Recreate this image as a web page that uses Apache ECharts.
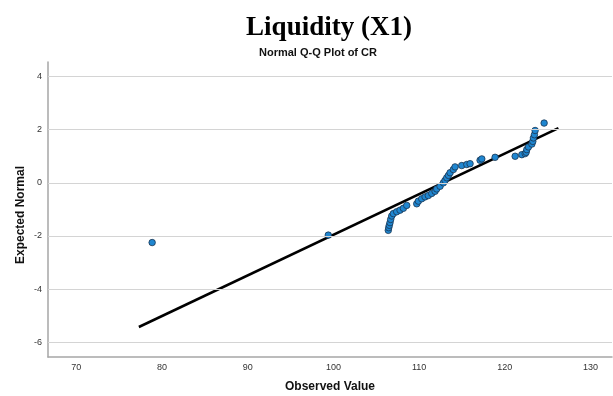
<!DOCTYPE html>
<html><head><meta charset="utf-8">
<script src="https://cdn.jsdelivr.net/npm/echarts@6/dist/echarts.min.js"></script>
<style>html,body{margin:0;padding:0;background:#fff}#c{width:613px;height:396px}</style>
</head><body><div id="c"></div>
<script>
const observed = [78.85, 99.40, 106.40, 106.45, 106.52, 106.60, 106.68, 106.80, 106.99, 107.38,
  107.77, 108.16, 108.55, 109.72, 109.91, 110.30, 110.69, 111.07, 111.47, 111.86,
  112.05, 112.44, 112.83, 113.02, 113.22, 113.42, 113.61, 113.99, 114.19, 114.97,
  115.56, 115.94, 117.11, 117.31, 118.86, 121.20, 121.98, 122.37, 122.48, 122.56,
  122.75, 123.15, 123.26, 123.33, 123.45, 123.53, 124.58];
const expected = [-2.25, -1.97, -1.79, -1.69, -1.60, -1.50, -1.38, -1.25, -1.16, -1.09,
  -1.03, -0.96, -0.85, -0.79, -0.69, -0.60, -0.53, -0.48, -0.40, -0.32,
  -0.23, -0.13, 0.00, 0.09, 0.19, 0.28, 0.38, 0.50, 0.60, 0.65,
  0.69, 0.72, 0.85, 0.90, 0.96, 1.00, 1.06, 1.10, 1.15, 1.25,
  1.35, 1.46, 1.56, 1.69, 1.81, 1.97, 2.25];
// Reference line endpoints
const lineX = [77.30, 126.25];
const lineY = [-5.43, 2.06];
// Tick labels
const xTicks = [70, 80, 90, 100, 110, 120, 130];
const yTicks = [-6, -4, -2, 0, 2, 4];

const points = observed.map((v, i) => [v, expected[i]]);
const linePts = lineX.map((v, i) => [v, lineY[i]]);

const chart = echarts.init(document.getElementById('c'), null, {renderer: 'canvas'});
const labelFont = {fontFamily: 'Liberation Sans, Arial, sans-serif', fontSize: 9, color: '#333'};
chart.setOption({
  animation: false,
  backgroundColor: '#fff',
  title: [
    {text: 'Liquidity (X1)', left: 324, top: 10, textAlign: 'center',
     textStyle: {fontFamily: 'Liberation Serif, Times New Roman, serif', fontWeight: 'bold', fontSize: 27, color: '#000'}},
    {text: 'Normal Q-Q Plot of CR', left: 313, top: 42, textAlign: 'center',
     textStyle: {fontFamily: 'Liberation Sans, Arial, sans-serif', fontWeight: 'bold', fontSize: 11, color: '#111'}}
  ],
  graphic: [
    {type: 'text', x: 21, y: 215, rotation: Math.PI / 2,
     style: {text: 'Expected Normal', align: 'center', verticalAlign: 'middle',
       font: 'bold 12px "Liberation Sans", Arial, sans-serif', fill: '#111'}}
  ],
  grid: {left: 48, right: 1, top: 62, bottom: 39, containLabel: false, outerBoundsMode: 'none'},
  xAxis: {
    type: 'value', min: 66.7, max: 132.5,
    name: 'Observed Value', nameLocation: 'middle', nameGap: 24,
    nameTextStyle: {fontFamily: 'Liberation Sans, Arial, sans-serif', fontWeight: 'bold', fontSize: 12, color: '#111'},
    axisLine: {show: true, onZero: false, lineStyle: {color: '#a6a6a6', width: 1.5}},
    axisTick: {show: false},
    splitLine: {show: false},
    axisLabel: Object.assign({customValues: xTicks, margin: 6}, labelFont)
  },
  yAxis: {
    type: 'value', min: -6.56, max: 4.55,
    axisLine: {show: true, onZero: false, lineStyle: {color: '#a6a6a6', width: 1.5}},
    axisTick: {show: false},
    splitLine: {show: false},
    axisLabel: Object.assign({customValues: yTicks, margin: 6}, labelFont)
  },
  series: [
    {
      type: 'line', data: [], silent: true,
      markLine: {silent: true, symbol: 'none', label: {show: false},
        lineStyle: {color: '#d4d4d4', width: 1, type: 'solid'},
        data: yTicks.map(v => ({yAxis: v}))}
    },
    {
      type: 'line', data: linePts, symbol: 'none', silent: true,
      lineStyle: {color: '#000', width: 2.5}, z: 3
    },
    {
      type: 'scatter', data: points, symbol: 'circle', symbolSize: 6.5, z: 4,
      itemStyle: {color: '#1f86d0', borderColor: '#1b3550', borderWidth: 0.8, opacity: 1}
    }
  ]
});
</script></body></html>
